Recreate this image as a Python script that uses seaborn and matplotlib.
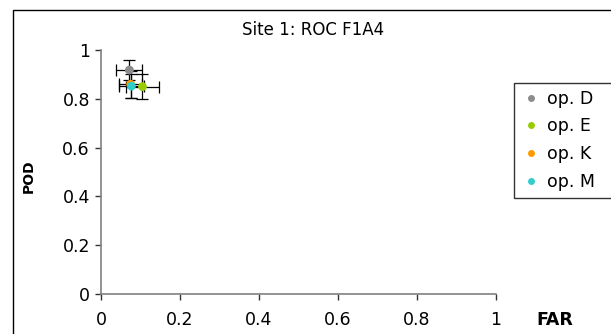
import matplotlib
matplotlib.use("Agg")
import matplotlib.pyplot as plt
import seaborn as sns
import pandas as pd
from matplotlib.patches import Rectangle

# Operator results: false alarm rate vs probability of detection, with spreads
operators = ["op. D", "op. E", "op. K", "op. M"]
far = [0.072, 0.105, 0.075, 0.077]
pod = [0.918, 0.850, 0.860, 0.852]
far_err = [0.033, 0.042, 0.030, 0.032]
pod_err = [0.040, 0.050, 0.055, 0.050]
colors = ["#8c8c8c", "#99cc00", "#ff9900", "#33cccc"]

x_ticks = [0, 0.2, 0.4, 0.6, 0.8, 1]
x_tick_labels = ["0", "0.2", "0.4", "0.6", "0.8", "1"]
y_ticks = [0, 0.2, 0.4, 0.6, 0.8, 1]
y_tick_labels = ["0", "0.2", "0.4", "0.6", "0.8", "1"]

df = pd.DataFrame({"operator": operators, "FAR": far, "POD": pod,
                   "far_err": far_err, "pod_err": pod_err})

sns.set_style("white")
plt.rcParams["font.family"] = ["DejaVu Sans"]
plt.rcParams["text.color"] = "black"
plt.rcParams["xtick.color"] = "black"
plt.rcParams["ytick.color"] = "black"

fig = plt.figure(figsize=(6.11, 3.34), dpi=100)
ax = fig.add_axes([101 / 611, 40 / 334, 395 / 611, 244 / 334])

# outer chart frame
fig.patches.append(Rectangle((13 / 611, -0.1), 1.2, (334 - 10) / 334 + 0.1,
                             transform=fig.transFigure, fill=False,
                             edgecolor="black", linewidth=1.0, zorder=0))

for _, r in df.iterrows():
    ax.errorbar(r["FAR"], r["POD"], xerr=r["far_err"], yerr=r["pod_err"],
                fmt="none", ecolor="black", elinewidth=0.9, capsize=4,
                capthick=0.9, zorder=2)

sns.scatterplot(data=df, x="FAR", y="POD", hue="operator", palette=colors,
                s=40, edgecolor="none", ax=ax, zorder=3, legend=False)

ax.set_xlim(0, 1)
ax.set_ylim(0, 1)
ax.set_xticks(x_ticks)
ax.set_xticklabels(x_tick_labels)
ax.set_yticks(y_ticks)
ax.set_yticklabels(y_tick_labels)
ax.tick_params(axis="both", direction="out", length=4, width=1, color="#333333",
               labelcolor="black", labelsize=12.5, pad=4,
               bottom=True, left=True)
ax.tick_params(axis="x", pad=8)
for side in ["top", "right"]:
    ax.spines[side].set_visible(False)
for side in ["left", "bottom"]:
    ax.spines[side].set_color("#808080")
    ax.spines[side].set_linewidth(1.2)
ax.set_xlabel("")
ax.set_ylabel("")

fig.text(313 / 611, 1 - 30 / 334, "Site 1: ROC F1A4", ha="center", va="center",
         fontsize=12, color="black")
fig.text(555 / 611, 1 - 320 / 334, "FAR", ha="center", va="center",
         fontsize=12.5, fontweight="bold", color="black")
fig.text(29 / 611, 1 - 176 / 334, "POD", ha="center", va="center",
         fontsize=10, fontweight="bold", rotation=90, color="black")

handles = [plt.Line2D([], [], marker="o", linestyle="none", color=c,
                      markersize=5, markeredgewidth=0) for c in colors]
leg = fig.legend(handles, operators, loc="upper left",
                 bbox_to_anchor=(514 / 611, 0, 0.2, 1 - 83 / 334), mode="expand",
                 frameon=True, fancybox=False, edgecolor="black", fontsize=12.5,
                 handletextpad=0.3, handlelength=1.2, labelspacing=0.55,
                 borderpad=0.4, borderaxespad=0, labelcolor="black")
leg.get_frame().set_linewidth(1.0)

fig.savefig("out.png", dpi=100)
